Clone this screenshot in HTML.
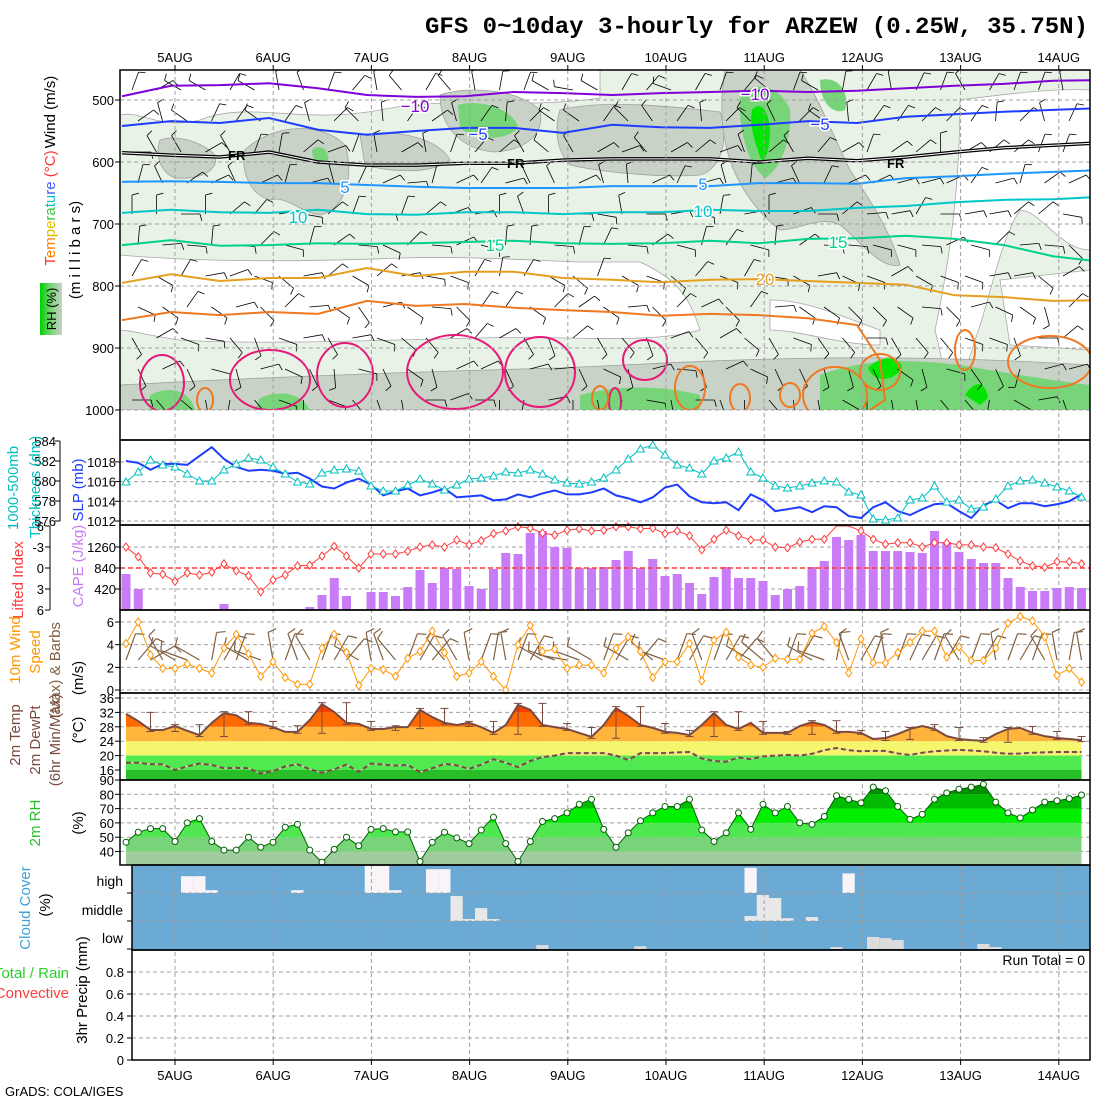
<!DOCTYPE html>
<html><head><meta charset="utf-8">
<style>
html,body{margin:0;padding:0;background:#fff;}
svg{display:block;font-family:"Liberation Sans",sans-serif;}
</style></head>
<body>
<svg id="chart" width="1100" height="1100" viewBox="0 0 1100 1100" xmlns="http://www.w3.org/2000/svg">
<defs>
<clipPath id="clipUpper"><rect x="120" y="70" width="970" height="340"/></clipPath>
<clipPath id="clipPlot"><rect x="120" y="70" width="970" height="990"/></clipPath>
<linearGradient id="rhGrad" x1="0" y1="0" x2="1" y2="0"><stop offset="0" stop-color="#00d000"/><stop offset="0.5" stop-color="#78d478"/><stop offset="1" stop-color="#c8d2c6"/></linearGradient>
</defs>
<rect x="0" y="0" width="1100" height="1100" fill="#fff"/>
</svg>
<script>
// ---------- data ----------
const days = ["5AUG","6AUG","7AUG","8AUG","9AUG","10AUG","11AUG","12AUG","13AUG","14AUG"];
const isoM10 = [494,477,476,473,481,492,495,494,487,489,492,489,487,485,487,485,481,477,474,469,468];
const isoM5  = [542,534,537,529,548,556,550,545,545,553,540,544,545,540,534,537,527,523,519,516,513];
const isoFR  = [585,589,592,584,600,605,605,602,602,597,595,595,595,600,594,598,592,584,577,573,569];
const iso5   = [632,631,632,634,634,637,640,642,642,642,639,639,639,634,634,635,626,623,619,616,613];
const iso10  = [682,677,681,682,677,684,685,681,681,684,681,681,677,679,679,674,671,665,661,660,656];
const iso15  = [734,726,735,734,731,732,731,729,727,731,732,731,727,731,724,723,719,724,734,752,761];
const iso20  = [795,781,792,787,787,771,784,777,777,787,790,794,790,789,792,795,798,815,818,824,823];
const iso25  = [855,842,847,842,845,824,832,829,835,839,842,848,845,847,852,863];
const slp = [1018.1,1017.9,1017.2,1017.8,1017.8,1017.7,1018.6,1019.5,1018.3,1017.5,1017.1,1017.2,1017.1,1016.8,1016.9,1016.3,1015.5,1015.3,1015.9,1016.3,1015.7,1014.6,1015.0,1015.3,1014.6,1014.9,1015.3,1014.4,1014.5,1014.6,1014.1,1014.2,1014.7,1014.4,1014.8,1015.1,1014.7,1014.7,1014.9,1015.3,1014.6,1014.3,1013.9,1014.4,1015.4,1015.7,1014.5,1013.9,1013.8,1013.9,1013.1,1014.7,1014.1,1013.0,1013.2,1013.4,1012.9,1013.5,1013.4,1012.5,1012.3,1013.4,1013.9,1013.0,1012.6,1013.2,1013.7,1013.8,1013.0,1012.3,1013.6,1014.1,1013.3,1013.8,1013.8,1013.5,1013.7,1014.0,1014.7];
const thick = [579.9,580.9,582.1,581.6,581.4,580.7,580.0,580.0,581.1,581.7,582.3,582.1,581.4,580.7,579.9,579.7,580.8,581.1,581.2,581.0,579.5,579.0,579.0,579.6,580.2,579.7,579.1,579.6,580.2,580.3,580.5,580.9,580.8,581.1,580.7,580.1,579.8,579.7,579.9,580.3,581.1,582.2,583.2,583.6,582.6,581.6,581.3,580.7,582.0,582.3,582.9,580.9,580.3,579.5,579.3,579.5,579.8,580.0,579.9,578.9,578.6,576.2,576.1,576.3,578.1,578.3,579.5,577.9,578.1,577.2,577.4,578.2,579.5,580.0,580.1,579.8,579.4,579.0,578.4];
const liIdx = [-3,-1.6,0.7,0.9,1.9,0.7,1.0,0.6,-0.6,0.4,1.1,3.4,1.7,1.0,-0.3,-0.4,-1.7,-3.1,-1.7,0,-2.0,-2.0,-2.0,-2.4,-3,-3.3,-3,-4,-3.3,-3.9,-4.9,-5.3,-5.9,-5.7,-5,-4.7,-5.4,-5.6,-5.3,-5.4,-5.9,-5.9,-5.6,-5.7,-4.9,-5.3,-4.6,-2.6,-4.1,-5.4,-4.6,-4,-4,-3,-2.9,-3.7,-4.1,-4.1,-6.1,-6.1,-5.3,-4.1,-3.4,-3.6,-3.6,-3,-3.6,-3.6,-3.3,-3.3,-3,-2.9,-2,-1,-0.3,-0.1,-0.9,-0.9,-0.6];
const cape = [720,420,20,0,0,0,0,20,120,20,0,0,0,0,20,60,300,640,280,0,360,360,280,460,800,540,840,820,480,420,820,1140,1120,1540,1580,1260,1240,840,840,860,1000,1180,840,1020,680,720,540,320,660,860,640,640,580,300,420,480,860,980,1460,1400,1500,1180,1180,1180,1160,1140,1580,1360,1160,1020,940,940,640,460,380,380,440,460,440];
const wspd = [4.1,6,3.1,1.9,1.9,2.3,1.9,1.5,3.7,4.9,3.2,1.2,2.5,1.1,0.5,0.5,3.7,4.9,3.3,0.4,1.9,1.8,1.2,2.8,3.4,5.2,3.3,1.2,1.5,2.5,1.2,0,4,5.7,3.4,3.6,1.9,2.2,2.2,1.5,3.7,4.7,3.4,1.1,2.5,2.5,4.1,0.8,4.4,5.1,2.9,2.2,2,2.8,2.7,2.7,5,5.6,4.2,1.5,4.5,2.4,2.4,3.3,4.2,5.2,5.2,2.9,3.8,2.6,2.6,3.7,5.9,6.5,6.1,4.7,1.3,1.9,0.7];
const wdir = [20,40,60,330,300,290,300,10,30,20,300,290,350,20,340,330,20,30,40,300,350,340,320,20,30,40,320,330,350,20,10,350,20,30,300,290,280,290,300,20,30,300,40,310,290,20,30,340,20,30,40,300,310,320,20,30,300,290,10,340,30,20,350,20,25,30,20,30,330,20,30,350,20,30,20,330,350,10,350];
const temp = [31.6,29.6,27.1,27.1,28.2,26.9,25.7,29.1,31.8,31.2,29.1,28.8,27.9,26.6,26.6,29.9,34.3,32.1,29.1,28.8,27.4,27.4,27.9,27.9,32.7,30.7,29.1,28.5,29.1,27.9,26.3,28.5,34.1,32.7,28.5,27.9,27.4,26.3,25.2,28.5,33.2,31,28.5,27.7,26.6,26.3,25.7,28.5,31.8,28.5,27.4,29.1,26.3,26.3,26.3,28.2,29.3,28.5,26.6,26.6,26.3,24.6,24.9,26,27.4,28.2,27.4,25.4,24.6,24.3,24.1,26,27.4,27.7,26.3,25.4,24.9,24.6,24.3];
const dewpt = [18,18,17.6,17.6,16,17,17.8,17.4,16.5,16.6,16.5,15,15.7,17,17.6,16.2,15.2,16.2,17.5,15.5,17.8,17.5,17.2,17.4,15.4,16.5,17.7,17.3,16.3,17.5,19,18,16.8,18.5,19.6,20,20.7,20.7,20.7,20.7,20,18.8,20.7,20.7,20.7,20.9,21,19.2,18.5,18.3,19.5,19,19.8,20,20.2,20,20.5,21.5,22.1,21.5,21.2,21.3,21.3,20.6,20.2,20.8,21.2,21.4,21.6,21.4,21.2,20.8,20.5,20.6,20.8,20.9,21,21,21];
const rh2m = [46.5,53.5,56,56,47,60,63,47,41,41,50,43,46.5,57,59,41,32.5,41.5,50,44,55.5,56,53.7,53.7,33,46.5,53.5,49.5,45.5,55,64,45.5,33,47,61,63,67,73,76.5,55.5,43,53,61.5,67,71.5,71.5,76.5,55,47,53,67,55.5,73,67,71.5,60,59,64.5,79,76.5,74,85,82.5,71.5,62.5,66,76.5,81,83.5,85,87,74.5,67,63.5,69,74.5,75.5,77,79.5];
const highCC = {4:60,5:60,6:10,13:10,19:100,20:100,21:10,24:85,25:85,50:90,58:70};
const midCC  = {26:89,27:7,28:46,29:7,50:18,51:93,52:82,53:10,55:14};
const lowCC  = {33:14,41:10,57:7,60:43,61:39,62:32,69:18,70:7};
const precip = [];

// ---------- helpers ----------
const svg = document.getElementById('chart');
const NS = 'http://www.w3.org/2000/svg';
function mk(tag, attrs, parent){
  const e = document.createElementNS(NS, tag);
  for (const k in attrs) e.setAttribute(k, attrs[k]);
  (parent||svg).appendChild(e);
  return e;
}
function txt(s, x, y, opts, parent){
  const e = mk('text', Object.assign({x:x, y:y, 'font-size':13, fill:'#000'}, opts||{}), parent);
  e.textContent = s;
  return e;
}
const xi = i => 126 + 12.25*i;
const xDay = d => 175 + 98.2*d;
const yP = p => 100 + (p-500)*0.62;
const ySLP = p => 521 - (p-1012)*9.85;
const yTh = v => 441 + (584-v)*10;
const yLI = v => 568 + v*7;
const yCAPE = v => 610 - v/20;
const yW = v => 690 - v*11.33;
const yT = v => 770 - (v-16)*3.6;
const yRH = v => 851.5 - (v-40)*1.43;
const yPr = v => 1060 - v*110;

// ---------- upper panel shading ----------
const up = mk('g', {'clip-path':'url(#clipUpper)'});


mk('rect', {x:120,y:70,width:970,height:340,fill:'#e8f2e6'}, up);
const whites = [
 "M120,70 L600,70 L600,98 C520,110 450,95 380,110 C300,125 250,100 200,120 C160,130 140,110 120,115 Z",
 "M120,255 C200,262 300,262 400,258 C470,256 520,260 580,262 L640,262 C680,280 690,300 700,330 C650,345 560,335 480,338 C380,340 260,345 180,340 C150,336 130,330 120,330 Z",
 "M960,100 C1000,95 1050,88 1090,90 L1090,250 C1060,250 1040,210 1020,210 C1000,240 990,300 975,340 C970,360 960,380 950,395 L935,330 C950,260 960,180 960,100 Z",
 "M1000,280 L1090,270 L1090,350 L1010,345 Z",
 "M770,300 C810,300 850,320 880,330 L880,345 C840,345 800,330 770,330 Z"
];
whites.forEach(d => { mk('path', {d:d, fill:'#fff', stroke:'#a8a8a8','stroke-width':0.8}, up); });
const greys = [
 "M160,140 C175,135 200,140 215,155 C220,170 200,180 175,178 C160,172 155,155 160,140 Z",
 "M245,150 C270,125 320,120 345,145 C355,175 345,210 320,215 C300,212 285,195 270,200 C250,195 240,170 245,150 Z",
 "M360,135 C400,128 440,140 450,160 C430,175 390,172 365,165 Z",
 "M440,95 C470,85 520,90 540,110 C545,135 525,150 495,152 C465,150 440,130 440,95 Z",
 "M560,110 C600,100 660,105 720,112 C730,140 720,170 700,175 C660,178 600,172 570,165 C555,150 555,125 560,110 Z",
 "M725,70 L800,70 C820,100 835,140 850,170 C870,200 890,230 900,265 C880,270 860,240 840,225 C820,215 800,230 780,230 C760,215 740,190 730,160 C720,130 720,100 725,70 Z",
 "M120,385 C250,378 400,372 560,368 C700,362 850,350 1090,365 L1090,410 L120,410 Z"
];
greys.forEach(d => { mk('path', {d:d, fill:'#c8d2c6', stroke:'#a0a0a0','stroke-width':0.8}, up); });
const greens = [
 ["M312,150 C320,143 330,150 328,160 C322,168 312,164 312,150 Z","#78d478"],
 ["M458,105 C480,98 515,110 518,128 C505,142 475,140 460,128 Z","#78d478"],
 ["M740,95 C755,80 780,85 790,110 C792,140 780,170 765,178 C748,165 738,130 740,95 Z","#78d478"],
 ["M752,110 C760,100 770,110 770,135 C768,160 762,168 758,150 C752,135 750,120 752,110 Z","#00e600"],
 ["M820,80 C840,75 850,95 845,110 C835,115 820,105 820,80 Z","#78d478"],
 ["M580,395 C620,385 660,385 700,395 L700,410 L580,410 Z","#78d478"],
 ["M820,375 C860,360 900,358 960,365 C1000,372 1050,380 1090,385 L1090,410 L820,410 Z","#78d478"],
 ["M868,368 C880,355 900,355 902,368 C895,380 875,385 868,368 Z","#00e600"],
 ["M965,395 C975,380 985,380 988,398 L980,405 Z","#00e600"],
 ["M150,395 C170,385 190,390 195,410 L150,410 Z","#78d478"],
 ["M260,398 C280,390 300,392 310,410 L255,410 Z","#78d478"]
];
greens.forEach(g => { mk('path', {d:g[0], fill:g[1], stroke:'none'}, up); });

// grid
const grid = mk('g', {stroke:'#a0a0a0','stroke-width':1,'stroke-dasharray':'4,3',fill:'none'});



// upper wind barbs (drawn under isotherms)
const barbs = mk('g', {stroke:'#000','stroke-width':0.8}, up);


for (let c=0;c<39;c++){
  for (let r=0;r<11;r++){
    const x = 132 + 24.5*c + (r%2)*6, y = 90 + 31*r;
    const a = (wdir[(c*2+r)%wdir.length] + r*15) * Math.PI/180;
    const L = 19;
    const x2 = x + L*Math.sin(a), y2 = y - L*Math.cos(a);
    mk('line',{x1:x,y1:y,x2:x2,y2:y2},barbs);
    const bx = x2 + 7*Math.sin(a+Math.PI/2.4), by = y2 - 7*Math.cos(a+Math.PI/2.4);
    mk('line',{x1:x2,y1:y2,x2:bx,y2:by},barbs);
  }
}

// isotherms
function isoLine(arr, color, name, w){
  const pts = arr.map((p,k)=> (122+49*k)+','+yP(p)).join(' ');
  const e = mk('polyline', {points:pts, fill:'none', stroke:color, 'stroke-width':w||2}, up);
  
  
  return e;
}
isoLine(isoM10, '#8000d8', 'isotherm-minus10');
isoLine(isoM5, '#1e3cff', 'isotherm-minus5');
isoLine(isoFR, '#000', 'freezing-level-outer', 3.5);
isoLine(isoFR, '#fff', 'freezing-level-inner', 1);
isoLine(iso5, '#1e96ff', 'isotherm-5');
isoLine(iso10, '#00c8c8', 'isotherm-10');
isoLine(iso15, '#00d28c', 'isotherm-15');
isoLine(iso20, '#e6a020', 'isotherm-20');
{
  const pts = iso25.map((p,k)=> (122+49*k)+','+yP(p));
  pts.push('880,360','885,400','870,410');
  const e = mk('polyline', {points:pts.join(' '), fill:'none', stroke:'#f07820','stroke-width':2}, up);
  
  
}
const loops = [[162,383,22,28,'#e6197a'],[270,380,40,30,'#e6197a'],[345,375,28,32,'#e6197a'],[455,372,48,37,'#e6197a'],[540,372,35,35,'#e6197a'],[645,360,22,20,'#e6197a'],[615,402,6,14,'#e6197a'],
 [205,400,8,12,'#f07820'],[690,388,15,22,'#f07820'],[740,398,10,14,'#f07820'],[790,395,10,12,'#f07820'],[835,395,32,28,'#f07820'],[880,372,20,18,'#f07820'],[965,350,10,20,'#f07820'],[1050,362,42,26,'#f07820'],[600,398,8,12,'#f07820']];
loops.forEach(l => { const e = mk('ellipse', {cx:l[0],cy:l[1],rx:l[2],ry:l[3],fill:'none',stroke:l[4],'stroke-width':2}, up);   });
[["\u221210",415,112,'#8000d8'],["\u221210",755,100,'#8000d8'],["\u22125",478,140,'#1e3cff'],["\u22125",820,130,'#1e3cff'],["5",345,193,'#1e96ff'],["5",703,190,'#1e96ff'],["10",298,223,'#00c8c8'],["10",703,217,'#00c8c8'],["15",495,251,'#00d28c'],["15",838,248,'#00d28c'],["20",765,285,'#e6a020']].forEach(t=>{
  const e = txt(t[0], t[1], t[2], {'font-size':17, fill:t[3], 'text-anchor':'middle', stroke:'#fff','stroke-width':3,'paint-order':'stroke'}, up);
   
});
[["FR",228,160],["FR",507,168],["FR",887,168]].forEach(t=>{ const e=txt(t[0],t[1],t[2],{'font-size':13,'font-weight':'bold'},up);   });

// ---------- grids ----------
for (let d=0; d<days.length; d++){ mk('line',{x1:xDay(d),y1:70,x2:xDay(d),y2:1060},grid); }
[500,600,700,800,900,1000].forEach(p=>mk('line',{x1:120,y1:yP(p),x2:1090,y2:yP(p)},grid));
[1014,1016,1018].forEach(p=>mk('line',{x1:120,y1:ySLP(p),x2:1090,y2:ySLP(p)},grid));
mk('line',{x1:120,y1:521,x2:1090,y2:521},grid);
[-3,3].forEach(v=>mk('line',{x1:120,y1:yLI(v),x2:1090,y2:yLI(v)},grid));
[0,2,4,6].forEach(v=>mk('line',{x1:120,y1:yW(v),x2:1090,y2:yW(v)},grid));
[20,24,28,32,36].forEach(v=>mk('line',{x1:120,y1:yT(v),x2:1090,y2:yT(v)},grid));
[40,50,60,70,80].forEach(v=>mk('line',{x1:120,y1:yRH(v),x2:1090,y2:yRH(v)},grid));
[0.2,0.4,0.6,0.8].forEach(v=>mk('line',{x1:132,y1:yPr(v),x2:1090,y2:yPr(v)},grid));

// ---------- panel 2 ----------
function series(arr, yf, color, w, name){
  const e = mk('polyline',{points:arr.map((v,i)=>xi(i)+','+yf(v)).join(' '),fill:'none',stroke:color,'stroke-width':w});
  
  
  return e;
}
series(slp, ySLP, '#1e3cff', 2, 'slp-line');
series(thick, yTh, '#00c0c0', 1, 'thickness-line');
thick.forEach((v,i)=>{ const x=xi(i), y=yTh(v); const e=mk('polygon',{points:`${x},${y-4} ${x-4},${y+3} ${x+4},${y+3}`,fill:'#fff',stroke:'#00c0c0','stroke-width':1});   });

// ---------- panel 3 ----------
cape.forEach((v,i)=>{ if(v<=0) return; const e=mk('rect',{x:xi(i)-4.5,y:yCAPE(v),width:9,height:610-yCAPE(v),fill:'#c87cf8'});   });
{ const e=mk('line',{x1:120,y1:yLI(0),x2:1090,y2:yLI(0),stroke:'#ff3c3c','stroke-width':1.5,'stroke-dasharray':'5,3'});   }
const liG = mk('g',{'clip-path':'url(#clipPlot)'});


liG.appendChild(series(liIdx, v=>Math.max(yLI(v),526), '#ff3c3c', 1, 'lifted-index-line'));
liIdx.forEach((v,i)=>{ const x=xi(i), y=yLI(v); if(y<526) return; const e=mk('polygon',{points:`${x},${y-4} ${x+3},${y} ${x},${y+4} ${x-3},${y}`,fill:'#fff',stroke:'#ff3c3c'},liG);   });

// ---------- panel 4 ----------
const wb = mk('g',{stroke:'#806040','stroke-width':1.2});


wdir.forEach((d,i)=>{ const a=d*Math.PI/180, x=xi(i), y=660; const x2=x+28*Math.sin(a), y2=y-28*Math.cos(a); mk('line',{x1:x,y1:y,x2:x2,y2:y2},wb); mk('line',{x1:x2,y1:y2,x2:x2+9*Math.sin(a+1.3),y2:y2-9*Math.cos(a+1.3)},wb); });
series(wspd, yW, '#ff9600', 1, 'wind-speed-line');
wspd.forEach((v,i)=>{ const x=xi(i), y=yW(v); const e=mk('polygon',{points:`${x},${y-4} ${x+3},${y} ${x},${y+4} ${x-3},${y}`,fill:'#fff',stroke:'#ff9600'});   });

// ---------- panel 5 ----------
function bandFill(arr, yf, bands, bottom, id, name){
  const cp = mk('clipPath',{id:id}, svg.querySelector('defs'));
  const pts = arr.map((v,i)=>xi(i)+','+yf(v)); pts.push(xi(arr.length-1)+','+bottom, xi(0)+','+bottom);
  mk('polygon',{points:pts.join(' ')},cp);
  const g = mk('g',{'clip-path':`url(#${id})`});
  
  
  bands.forEach(b=>mk('rect',{x:120,y:b[0],width:970,height:b[1]-b[0],fill:b[2]},g));
}
bandFill(temp, yT, [[690,yT(32),'#ff3c00'],[yT(32),yT(28),'#ff6a00'],[yT(28),yT(24),'#ffb43c'],[yT(24),yT(20),'#f5f56e'],[yT(20),yT(16),'#50ea50'],[yT(16),780,'#28be28']], 780, 'tclip', 'temperature-fill');
series(temp, yT, '#7a4a40', 2, 'temperature-line');
series(dewpt, yT, '#e0d0d0', 1, 'dewpoint-halo');
{ const e = series(dewpt, yT, '#7a4a40', 2, 'dewpoint-line'); e.setAttribute('stroke-dasharray','5,3'); }
for (let i=2;i<temp.length;i+=2){
  const w = temp.slice(i-2,i+1);
  const hi = Math.max(...w)+0.4, lo = Math.min(...w)-0.4;
  const e = mk('g',{stroke:'#7a4a40','stroke-width':1});
  
  
  mk('line',{x1:xi(i),y1:yT(hi),x2:xi(i),y2:yT(lo)},e);
  mk('line',{x1:xi(i)-4,y1:yT(hi),x2:xi(i)+4,y2:yT(hi)},e);
  mk('line',{x1:xi(i)-4,y1:yT(lo),x2:xi(i)+4,y2:yT(lo)},e);
}

// ---------- panel 6 ----------
bandFill(rh2m, yRH, [[780,yRH(80),'#009000'],[yRH(80),yRH(70),'#00bb00'],[yRH(70),yRH(60),'#00f000'],[yRH(60),yRH(50),'#50e850'],[yRH(50),yRH(40),'#78d478'],[yRH(40),865,'#a0cca0']], 865, 'rhclip', 'rh-fill');
series(rh2m, yRH, '#006000', 1, 'rh-line');
rh2m.forEach((v,i)=>{ const e=mk('circle',{cx:xi(i),cy:yRH(v),r:3,fill:'#fff',stroke:'#006000'});   });

// ---------- panel 7 ----------
{ const e = mk('rect',{x:132,y:865,width:958,height:85,fill:'#6aaad4'});   }
function cloudRow(obj, base, color, name){
  for (const k in obj){
    const h = obj[k]/100*28;
    const e = mk('rect',{x:132+12.25*k,y:base-h,width:12.25,height:h,fill:color});
    
    
  }
}
cloudRow(highCC, 893, '#f8f4f8', 'high-cloud-bar');
cloudRow(midCC, 921, '#e8e8e8', 'middle-cloud-bar');
cloudRow(lowCC, 949, '#dcdcdc', 'low-cloud-bar');
[893,921].forEach(y=>mk('line',{x1:132,y1:y,x2:1090,y2:y,stroke:'#a0a0a0','stroke-dasharray':'4,3'}));
for (let d=0; d<days.length; d++){ mk('line',{x1:xDay(d),y1:865,x2:xDay(d),y2:950,stroke:'#a0a0a0','stroke-dasharray':'4,3'}); }

// ---------- frames ----------
const frames = [[120,70,970,370,'upper-air-panel'],[120,440,970,85,'slp-panel'],[120,525,970,85,'cape-panel'],[120,610,970,83,'wind-panel'],[120,693,970,87,'temp-panel'],[120,780,970,85,'rh-panel'],[132,865,958,85,'cloud-panel'],[132,950,958,110,'precip-panel']];
frames.forEach(f=>{ const e=mk('rect',{x:f[0],y:f[1],width:f[2],height:f[3],fill:'none',stroke:'#000','stroke-width':1.5});   });

// ---------- axes & ticks ----------
function ticks(vals, yf, x, labelX, fmt, name){
  vals.forEach(v=>{ mk('line',{x1:x-5,y1:yf(v),x2:x,y2:yf(v),stroke:'#000'}); const e=txt(fmt?fmt(v):String(v), labelX, yf(v)+5, {'text-anchor':'end','font-size':13});   });
}
ticks([500,600,700,800,900,1000], yP, 120, 114, null, 'pressure-tick');
mk('line',{x1:60,y1:441,x2:60,y2:521,stroke:'#000'});
ticks([584,582,580,578,576], yTh, 60, 56, null, 'thickness-tick');
ticks([1012,1014,1016,1018], ySLP, 120, 116, null, 'slp-tick');
mk('line',{x1:50,y1:526,x2:50,y2:610,stroke:'#000'});
ticks([-6,-3,0,3,6], yLI, 50, 44, null, 'li-tick');
ticks([420,840,1260], yCAPE, 120, 116, null, 'cape-tick');
ticks([0,2,4,6], yW, 120, 114, null, 'wind-tick');
ticks([16,20,24,28,32,36], yT, 120, 114, null, 'temp-tick');
ticks([40,50,60,70,80,90], yRH, 120, 114, null, 'rh-tick');
ticks([0,0.2,0.4,0.6,0.8], yPr, 132, 124, v=>v===0?'0':String(v), 'precip-tick');
[["high",881],["middle",910],["low",938]].forEach(t=>{ const e=txt(t[0],123,t[1]+5,{'text-anchor':'end','font-size':14});   });
[893,921,949].forEach(y=>mk('line',{x1:127,y1:y,x2:132,y2:y,stroke:'#000'}));

days.forEach((d,k)=>{
  const a = txt(d, xDay(k), 62, {'text-anchor':'middle','font-size':13});
   
  const b = txt(d, xDay(k), 1080, {'text-anchor':'middle','font-size':13});
   
  mk('line',{x1:xDay(k),y1:65,x2:xDay(k),y2:70,stroke:'#000'});
  mk('line',{x1:xDay(k),y1:1060,x2:xDay(k),y2:1065,stroke:'#000'});
});

{ const e = txt('GFS 0~10day 3-hourly for ARZEW (0.25W, 35.75N)', 425, 33, {'font-size':23,'font-family':'"Liberation Mono",monospace','font-weight':'bold', textLength:663, lengthAdjust:'spacingAndGlyphs'});   }
{ const e = txt('GrADS: COLA/IGES', 5, 1096, {'font-size':13});   }
{ const e = txt('Run Total = 0', 1085, 965, {'text-anchor':'end','font-size':14});   }

function vlabel(parts, x, cy, size, name){
  const e = mk('text',{x:0,y:0,'font-size':size||15,'text-anchor':'middle',transform:`translate(${x},${cy}) rotate(-90)`});
  parts.forEach(p=>{ const t=mk('tspan',{fill:p[1]},e); t.textContent=p[0]; });
  
  
  return e;
}
vlabel([['Wind (m/s)','#000']], 55, 112, 15, 'wind-axis-title');
vlabel([['T','#ff3030'],['em','#ff8000'],['pe','#e0c000'],['ra','#40c040'],['tu','#00c0c0'],['re ','#4060ff'],['(°C)','#ff3030']], 55, 208, 15, 'temperature-axis-title');
vlabel([['(m i l l i b a r s)','#000']], 80, 250, 15, 'pressure-axis-title');
{ const r=mk('rect',{x:40,y:283,width:22,height:52,fill:'url(#rhGrad)'});   }
vlabel([['RH (%)','#000']], 56, 309, 13, 'rh-axis-title');
vlabel([['1000-500mb','#00c0c0']], 18, 488, 15, 'thickness-axis-title');
vlabel([['Thickness (dm)','#00c0c0']], 40, 487, 15, 'thickness-unit-title');
vlabel([['SLP (mb)','#1e3cff']], 83, 490, 15, 'slp-axis-title');
vlabel([['Lifted Index','#ff3c3c']], 23, 580, 15, 'lifted-index-axis-title');
vlabel([['CAPE (J/kg)','#c87cf8']], 83, 566, 15, 'cape-axis-title');
vlabel([['10m Wind','#ff9600']], 20, 650, 15, 'wind10m-axis-title');
vlabel([['Speed','#ff9600']], 40, 652, 15, 'speed-axis-title');
vlabel([['(Max) & Barbs','#806040']], 60, 670, 15, 'barbs-axis-title');
vlabel([['(m/s)','#000']], 83, 678, 15, 'wind-unit-title');
vlabel([['2m Temp','#7a4a40']], 20, 735, 15, 'temp2m-axis-title');
vlabel([['2m DewPt','#7a4a40']], 40, 740, 15, 'dewpt-axis-title');
vlabel([['(6hr Min/Max)','#7a4a40']], 60, 740, 15, 'minmax-axis-title');
vlabel([['(°C)','#000']], 83, 730, 15, 'temp-unit-title');
vlabel([['2m RH','#28c028']], 40, 823, 15, 'rh2m-axis-title');
vlabel([['(%)','#000']], 83, 823, 15, 'rh-unit-title');
vlabel([['Cloud Cover','#3ca0d8']], 30, 908, 15, 'cloud-axis-title');
vlabel([['(%)','#000']], 50, 905, 15, 'cloud-unit-title');
vlabel([['3hr Precip (mm)','#000']], 87, 990, 15, 'precip-axis-title');
{ const e=txt('Total / Rain', 69, 978, {'text-anchor':'end','font-size':15, fill:'#28d228'});   }
{ const e=txt('Convective', 69, 998, {'text-anchor':'end','font-size':15, fill:'#ff3c3c'});   }
</script>
</body></html>
